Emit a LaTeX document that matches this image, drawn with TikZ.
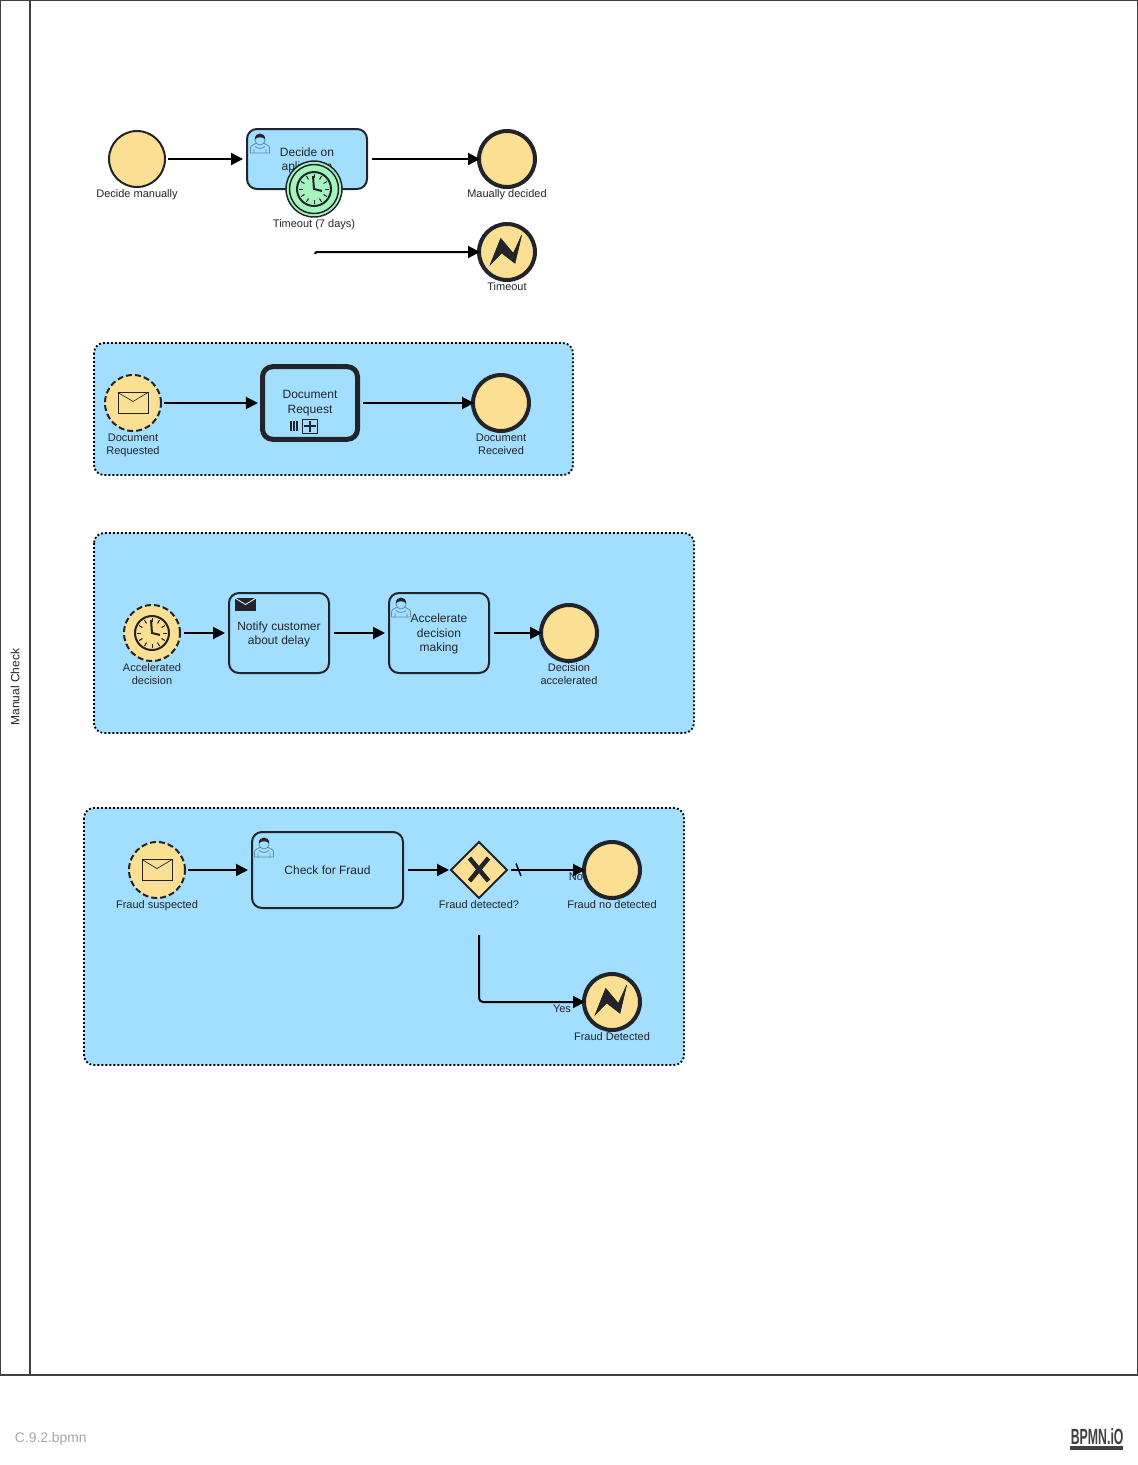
\documentclass[tikz,border=0pt]{standalone}
\usepackage{fontspec}
\setmainfont{Liberation Sans}
\usetikzlibrary{positioning,arrows.meta}
\usetikzlibrary{shapes.geometric}
\definecolor{ink}{HTML}{22242A}
\definecolor{bluefill}{HTML}{A2DEFF}
\definecolor{eventfill}{HTML}{FBDF93}
\definecolor{timerfill}{HTML}{A5F4BD}
\definecolor{usercol}{HTML}{5F8CA8}
\newcommand{\topgap}{\rule{0pt}{8.2pt}}
\tikzset{
  mail/.pic={
    \draw [ink, line width=.75pt] (-15,-10.5) rectangle (15,10.5);
    \draw [ink, line width=.5pt] (-15,-10.5) -- (0,-1.5) -- (15,-10.5);
  },
  mailfull/.pic={
    \fill [ink] (-10.5,-6.5) rectangle (10.5,6.5);
    \draw [white, line width=.6pt] (-10.5,-6.5) -- (0,0) -- (10.5,-6.5);
  },
  clock/.pic={
    \draw [ink, line width=1.5pt] (0,0) circle (17);
    \foreach \a in {0,30,...,330}
      \draw [ink, line width=.75pt] (\a:11) -- (\a:15);
    \draw [ink, line width=1.5pt] (-1,-13) -- (0,0) -- (8,2);
  },
  flash/.pic={
    \filldraw [ink, line width=.4pt, line join=miter] (14.7,-17) -- (8,11.3) -- (-5.3,1) -- (-17,13) -- (-6.3,-13.7) -- (6.3,1.3) -- cycle;
  },
  person/.pic={
    \draw [usercol, line width=.6pt] (-9.5,10) -- (-9.5,5) .. controls (-9.5,2) and (-6,2) .. (-3.5,0)
      -- (3.5,0) .. controls (6,2) and (9.5,2) .. (9.5,5) -- (9.5,10) -- cycle;
    \draw [usercol, line width=.6pt] (-6,10) -- (-6,6) (6,10) -- (6,6) (-5,3.5) .. controls (-2,6) and (2,6) .. (5,3.5);
    \draw [usercol, fill=bluefill, line width=.6pt] (0,-3) circle (5);
    \fill [ink] (-5.2,-3.5) .. controls (-5.5,-11.5) and (5.5,-11.5) .. (5.2,-3.5) .. controls (3.5,-6.5) and (-3.5,-6.5) .. (-5.2,-3.5);
  },
}
\begin{document}
\begin{tikzpicture}[x=.75pt,y=-.75pt]
  \tikzstyle{every node}=[inner sep=0pt, outer sep=0pt, text=ink]
  \tikzstyle{lbl}=[align=center, font=\fontsize{8.25}{9.75}\selectfont]
  \tikzstyle{task}=[draw=ink, fill=bluefill, rectangle, rounded corners=7.5pt, line width=1.5pt, align=center, font=\fontsize{9}{10.8}\selectfont]
  \tikzstyle{startev}=[draw=ink, fill=eventfill, circle, minimum size=42pt, line width=1.5pt]
  \tikzstyle{catchev}=[startev, dash pattern=on 4.5pt off 2.25pt]
  \tikzstyle{endev}=[startev, line width=3pt]
  \tikzstyle{timer}=[startev, fill=timerfill, line width=1.1pt]
  \tikzstyle{gate}=[draw=ink, fill=eventfill, diamond, minimum size=42pt, line width=1.5pt]
  \tikzstyle{group}=[fill=bluefill, draw=black, rounded corners=7.5pt, line width=1.4pt, dash pattern=on 1.4pt off 1.6pt]
  \tikzstyle{flow}=[-{Triangle[length=9pt,width=9pt]}, black, line width=1.5pt, shorten <=2.25pt, shorten >=3pt]
  \tikzstyle{fromtask}=[shorten <=3.75pt]
  \tikzstyle{toend}=[shorten >=-.75pt]
  \useasboundingbox (0,0) rectangle (1138,1465);

  % pool
  \draw [black!75, line width=.9pt] (.5,.5) rectangle (1137.5,1375);
  \draw [black!75, line width=1.1pt] (30,0) -- (30,1375);
  \node [font=\fontsize{9}{10.8}\selectfont, rotate=90] (n0) at (15,687) {Manual Check};

  % decide manually
  \node [startev] (n1) at (137,159) {};
  \node [lbl, below = 2.25pt of n1] (l1) {Decide manually};
  \node [task, minimum width=90pt, minimum height=45pt] (n2) at (307,159) {\topgap Decide on\\aplication};
  \pic at (260,143) {person};
  \node [endev] (n3) at (507,159) {};
  \node [lbl, below = 2.25pt of n3] (l3) {Maually decided};
  \node [timer] (n4) at (314,189) {};
  \draw [ink, line width=1.1pt] (n4) circle (24.5);
  \pic at (n4) {clock};
  \node [lbl, below = 2.25pt of n4] (l4) {Timeout (7 days)};
  \coordinate (c1) at (315,254);
  \node [endev] (n5) at (507,252) {};
  \pic at (n5) {flash};
  \node [lbl, below = 2.25pt of n5] (l5) {Timeout};

  \draw [flow] (n1) -- (n2);
  \draw [flow, fromtask, toend] (n2) -- (n3);
  \draw [flow, toend, shorten <=0pt, rounded corners=1.5pt] (c1) |- (n5);

  % document request
  \draw [group] (94,343) rectangle (573,475);
  \node [catchev] (n6) at (133,403) {};
  \pic at (n6) {mail};
  \node [lbl, below = 2.25pt of n6] (l6) {Document\\Requested};
  \node [task, line width=3.75pt, minimum width=71.25pt, minimum height=54.4pt] (n7) at (310,403) {Document\\Request};
  \draw [ink, line width=1.1pt] (291,421) -- (291,431) (294,421) -- (294,431) (297,421) -- (297,431);
  \draw [ink, line width=.75pt] (302.5,419.5) rectangle (317,433);
  \draw [ink, line width=1.1pt] (310,421) -- (310,432) (303.5,426) -- (316,426);
  \node [endev] (n8) at (501,403) {};
  \node [lbl, below = 2.25pt of n8] (l8) {Document\\Received};

  \draw [flow, shorten >=3.4pt] (n6) -- (n7);
  \draw [flow, shorten <=4pt, toend] (n7) -- (n8);

  % accelerated decision
  \draw [group] (94,533) rectangle (694,733);
  \node [catchev] (n9) at (152,633) {};
  \pic at (n9) {clock};
  \node [lbl, below = 2.25pt of n9] (l9) {Accelerated\\decision};
  \node [task, minimum width=75pt, minimum height=60pt] (n10) at (279,633) {\topgap Notify customer\\about delay};
  \pic at (245.5,604.5) {mailfull};
  \node [task, minimum width=75pt, minimum height=60pt] (n11) at (439,633) {\topgap Accelerate\\decision\\making};
  \pic at (401,607) {person};
  \node [endev] (n12) at (569,633) {};
  \node [lbl, below = 2.25pt of n12] (l12) {Decision\\accelerated};

  \draw [flow, shorten <=3pt] (n9) -- (n10);
  \draw [flow, fromtask] (n10) -- (n11);
  \draw [flow, fromtask, toend] (n11) -- (n12);

  % fraud
  \draw [group] (84,808) rectangle (684,1065);
  \node [catchev] (n13) at (157,870) {};
  \pic at (n13) {mail};
  \node [lbl, below = 2.25pt of n13] (l13) {Fraud suspected};
  \node [task, minimum width=113.25pt, minimum height=57pt] (n14) at (327.5,870) {Check for Fraud};
  \pic at (264,847) {person};
  \node [gate] (n15) at (479,870) {};
  \draw [ink, line width=3.4pt] (469.5,858) -- (488.5,881) (488.5,858) -- (469.5,881);
  \node [lbl, below = 2.25pt of n15] (l15) {Fraud detected?};
  \node [lbl] (l16) at (576,877) {No};
  \node [endev] (n16) at (612,870) {};
  \node [lbl, below = 2.25pt of n16] (l17) {Fraud no detected};
  \coordinate (c2) at (479,935);
  \node [endev] (n17) at (612,1002) {};
  \pic at (n17) {flash};
  \node [lbl, below = 2.25pt of n17] (l18) {Fraud Detected};
  \node [lbl] (l19) at (562,1009) {Yes};

  \draw [flow] (n13) -- (n14);
  \draw [flow, fromtask, shorten >=1.5pt] (n14) -- (n15);
  \draw [flow, shorten <=3pt, toend] (n15) -- (n16);
  \draw [black, line width=1.1pt] (516,863.5) -- (521,876);
  \draw [flow, toend, shorten <=0pt, rounded corners=3pt] (c2) |- (n17);

  % footer
  \node [anchor=west, text=black!35, font=\fontsize{10.4}{12}\selectfont] (f1) at (15,1438.5) {C.9.2.bpmn};
  \node [anchor=north east, text=black!75, font=\fontsize{16.5}{18}\bfseries\selectfont] (f2) at (1123.5,1429) {\scalebox{.56}[1]{BPMN.iO}};
  \fill [black!75] (1070,1446) rectangle (1123,1450);
\end{tikzpicture}
\end{document}
